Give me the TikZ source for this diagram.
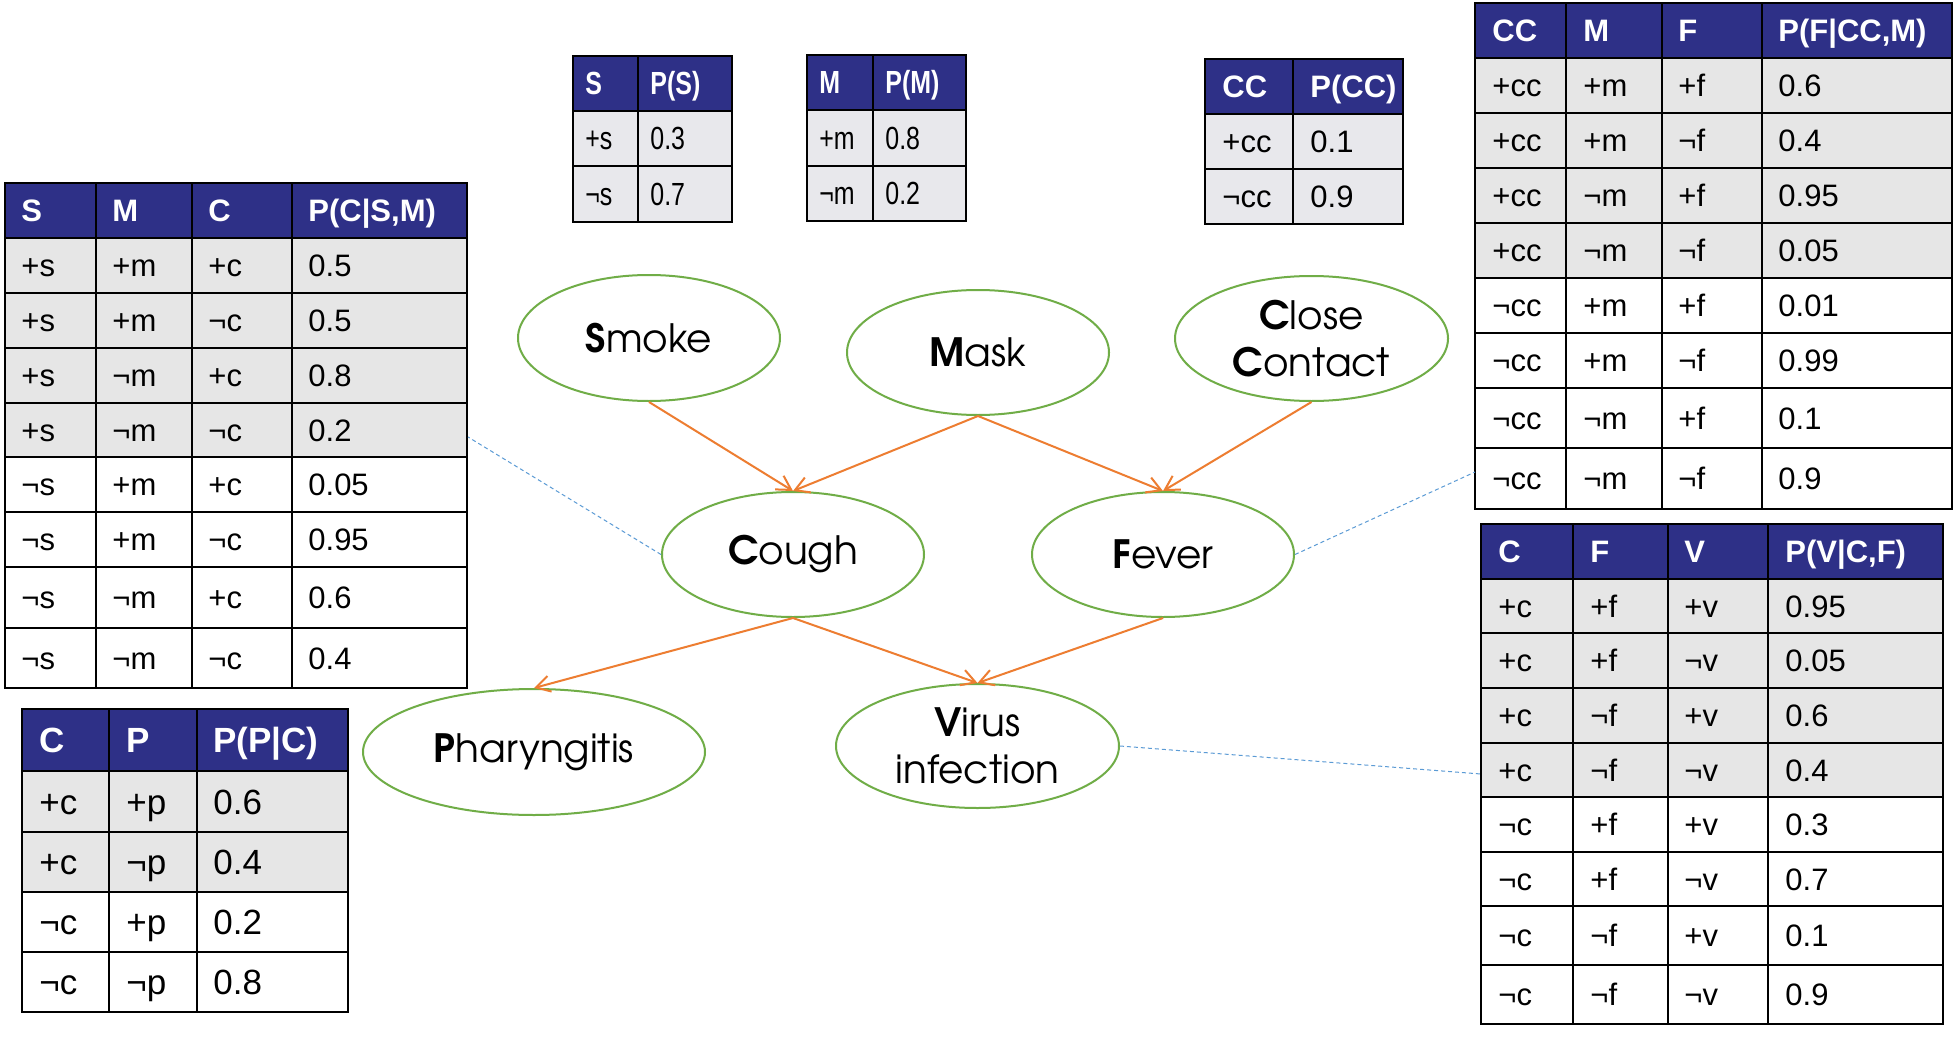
\documentclass[tikz,border=0pt]{standalone}
\usepackage{fontspec}
\setmainfont{Liberation Sans}
\newfontfamily\narrowfont[FakeStretch=0.78]{Liberation Sans}
\newfontfamily\gothfont{TeX Gyre Adventor}
\usetikzlibrary{shapes.geometric,arrows.meta}
\definecolor{hdrblue}{HTML}{2E3087}
\definecolor{rowgray}{HTML}{E6E6E6}
\definecolor{rowgrayb}{HTML}{E8E8EC}
\definecolor{nodegreen}{HTML}{70AD47}
\definecolor{arrorange}{HTML}{ED7D31}
\definecolor{linkblue}{HTML}{5B9BD5}
\tikzset{
  bnnode/.style={ellipse, draw=nodegreen, line width=1pt, fill=white, inner sep=0pt, align=center,
                 font=\gothfont\fontsize{19.5}{23.5}\selectfont},
  bnedge/.style={draw=arrorange, line width=1pt, -{Straight Barb[length=7pt,width=8pt]}},
  dotlink/.style={draw=linkblue, line width=0.5pt, dash pattern=on 2pt off 1.5pt},
  tabline/.style={line width=1.2pt, draw=black},
  hcell/.style={anchor=base west, inner sep=0pt, text=white, font=\bfseries\fontsize{15.5}{18}\selectfont},
  bcell/.style={anchor=base west, inner sep=0pt, text=black, font=\fontsize{15.5}{18}\selectfont},
  hcelln/.style={anchor=base west, inner sep=0pt, text=white, font=\narrowfont\bfseries\fontsize{16}{18}\selectfont},
  bcelln/.style={anchor=base west, inner sep=0pt, text=black, font=\narrowfont\fontsize{16}{18}\selectfont},
  hcellp/.style={anchor=base west, inner sep=0pt, text=white, font=\bfseries\fontsize{17.5}{20}\selectfont},
  bcellp/.style={anchor=base west, inner sep=0pt, text=black, font=\fontsize{17.5}{20}\selectfont},
}
% #1 xL #2 xR #3 yTop #4 yHeaderBottom #5 yGrayBottom #6 yBottom #7 inner x list #8 inner y list #9 gray colour
\newcommand{\tblframe}[9]{%
  \fill[hdrblue] (#1,#3) rectangle (#2,#4);
  \fill[#9] (#1,#4) rectangle (#2,#5);
  \foreach \xx in {#7}{\draw[tabline] (\xx,#3) -- (\xx,#6);}
  \foreach \yy in {#8}{\draw[tabline] (#1,\yy) -- (#2,\yy);}
  \draw[tabline] (#1,#3) rectangle (#2,#6);
}
\begin{document}
\begin{tikzpicture}[x=0.5pt,y=-0.5pt]
\useasboundingbox (0,0) rectangle (1955,1038);
\fill[white] (0,0) rectangle (1955,1038);

% ---------- P(S) ----------
\tblframe{573}{732}{56}{111}{222}{222}{638}{111,166}{rowgrayb}
\node[hcelln] (ts-h1) at (585,83.5+11.4) {S};
\node[hcelln] (ts-h2) at (650,83.5+11.4) {P(S)};
\node[bcelln] (ts-1-1) at (585,138.5+11.4) {+s};
\node[bcelln] (ts-1-2) at (650,138.5+11.4) {0.3};
\node[bcelln] (ts-2-1) at (585,194+11.4) {¬s};
\node[bcelln] (ts-2-2) at (650,194+11.4) {0.7};

% ---------- P(M) ----------
\tblframe{807}{966}{55}{110}{221}{221}{873}{110,166}{rowgrayb}
\node[hcelln] (tm-h1) at (819,82.5+11.4) {M};
\node[hcelln] (tm-h2) at (885,82.5+11.4) {P(M)};
\node[bcelln] (tm-1-1) at (819,138+11.4) {+m};
\node[bcelln] (tm-1-2) at (885,138+11.4) {0.8};
\node[bcelln] (tm-2-1) at (819,193.5+11.4) {¬m};
\node[bcelln] (tm-2-2) at (885,193.5+11.4) {0.2};

% ---------- P(CC) ----------
\tblframe{1205}{1403}{59}{114}{224}{224}{1293}{114,169}{rowgrayb}
\node[hcell] (tcc-h1) at (1222,86.5+11) {CC};
\node[hcell] (tcc-h2) at (1310,86.5+11) {P(CC)};
\node[bcell] (tcc-1-1) at (1222,141.5+11) {+cc};
\node[bcell] (tcc-1-2) at (1310,141.5+11) {0.1};
\node[bcell] (tcc-2-1) at (1222,196.5+11) {¬cc};
\node[bcell] (tcc-2-2) at (1310,196.5+11) {0.9};

% ---------- P(C|S,M) ----------
\tblframe{5}{467}{183}{238}{457}{688}{96,192,292}{238,293,348,403,457,512,567,628}{rowgray}
\node[hcell] (tc-h1) at (21,210.5+11) {S};
\node[hcell] (tc-h2) at (112,210.5+11) {M};
\node[hcell] (tc-h3) at (208,210.5+11) {C};
\node[hcell] (tc-h4) at (308,210.5+11) {P(C|S,M)};
\foreach \yc/\a/\b/\c/\d [count=\k] in {265.5/+s/+m/+c/0.5, 320.5/+s/+m/¬c/0.5, 375.5/+s/¬m/+c/0.8, 430/+s/¬m/¬c/0.2,
    484.5/¬s/+m/+c/0.05, 539.5/¬s/+m/¬c/0.95, 597.5/¬s/¬m/+c/0.6, 658/¬s/¬m/¬c/0.4}{
  \node[bcell] (tc-\k-1) at (21,\yc+11) {\a};
  \node[bcell] (tc-\k-2) at (112,\yc+11) {\b};
  \node[bcell] (tc-\k-3) at (208,\yc+11) {\c};
  \node[bcell] (tc-\k-4) at (308,\yc+11) {\d};
}

% ---------- P(F|CC,M) ----------
\tblframe{1475}{1952}{3}{58}{278}{509}{1566,1662,1762}{58,113,168,223,278,333,388,448}{rowgray}
\node[hcell] (tf-h1) at (1492,30.5+11) {CC};
\node[hcell] (tf-h2) at (1583,30.5+11) {M};
\node[hcell] (tf-h3) at (1678,30.5+11) {F};
\node[hcell] (tf-h4) at (1778,30.5+11) {P(F|CC,M)};
\foreach \yc/\a/\b/\c/\d [count=\k] in {85.5/+cc/+m/+f/0.6, 140.5/+cc/+m/¬f/0.4, 195.5/+cc/¬m/+f/0.95, 250.5/+cc/¬m/¬f/0.05,
    305.5/¬cc/+m/+f/0.01, 360.5/¬cc/+m/¬f/0.99, 418/¬cc/¬m/+f/0.1, 478.5/¬cc/¬m/¬f/0.9}{
  \node[bcell] (tf-\k-1) at (1492,\yc+11) {\a};
  \node[bcell] (tf-\k-2) at (1583,\yc+11) {\b};
  \node[bcell] (tf-\k-3) at (1678,\yc+11) {\c};
  \node[bcell] (tf-\k-4) at (1778,\yc+11) {\d};
}

% ---------- P(V|C,F) ----------
\tblframe{1481}{1943}{524}{579}{797}{1024}{1573,1668,1768}{579,633,688,743,797,852,906,965}{rowgray}
\node[hcell] (tv-h1) at (1498,551.5+11) {C};
\node[hcell] (tv-h2) at (1590,551.5+11) {F};
\node[hcell] (tv-h3) at (1684,551.5+11) {V};
\node[hcell] (tv-h4) at (1785,551.5+11) {P(V|C,F)};
\foreach \yc/\a/\b/\c/\d [count=\k] in {606/+c/+f/+v/0.95, 660.5/+c/+f/¬v/0.05, 715.5/+c/¬f/+v/0.6, 770/+c/¬f/¬v/0.4,
    824.5/¬c/+f/+v/0.3, 879/¬c/+f/¬v/0.7, 935.5/¬c/¬f/+v/0.1, 994.5/¬c/¬f/¬v/0.9}{
  \node[bcell] (tv-\k-1) at (1498,\yc+11) {\a};
  \node[bcell] (tv-\k-2) at (1590,\yc+11) {\b};
  \node[bcell] (tv-\k-3) at (1684,\yc+11) {\c};
  \node[bcell] (tv-\k-4) at (1785,\yc+11) {\d};
}

% ---------- P(P|C) ----------
\tblframe{22}{348}{709}{771}{892}{1012}{109,197}{771,832,892,952}{rowgray}
\node[hcellp] (tp-h1) at (39,740+12.5) {C};
\node[hcellp] (tp-h2) at (126,740+12.5) {P};
\node[hcellp] (tp-h3) at (213,740+12.5) {P(P|C)};
\foreach \yc/\a/\b/\c [count=\k] in {801.5/+c/+p/0.6, 862/+c/¬p/0.4, 922/¬c/+p/0.2, 982/¬c/¬p/0.8}{
  \node[bcellp] (tp-\k-1) at (39,\yc+12.5) {\a};
  \node[bcellp] (tp-\k-2) at (126,\yc+12.5) {\b};
  \node[bcellp] (tp-\k-3) at (213,\yc+12.5) {\c};
}

% ---------- network nodes ----------
\node[bnnode, minimum width=131pt, minimum height=63pt] (smoke) at (649,338) {{\bfseries S}moke};
\node[bnnode, minimum width=131pt, minimum height=62.5pt] (mask) at (978,352.5) {{\bfseries M}ask};
\node[bnnode, minimum width=136.5pt, minimum height=62.5pt] (close) at (1311.5,338.5) {{\bfseries C}lose\\{\bfseries C}ontact};
\node[bnnode, minimum width=131pt, minimum height=62.5pt] (cough) at (793,554.5) {{\bfseries C}ough};
\node[bnnode, minimum width=131pt, minimum height=62.5pt] (fever) at (1163,554.5) {{\bfseries F}ever};
\node[bnnode, minimum width=171pt, minimum height=63pt] (phar) at (534,752) {{\bfseries P}haryngitis};
\node[bnnode, minimum width=141.5pt, minimum height=62pt] (virus) at (977.5,746) {{\bfseries V}irus\\infection};

% ---------- edges ----------
\draw[bnedge] (smoke.south) -- (cough.north);
\draw[bnedge] (mask.south) -- (cough.north);
\draw[bnedge] (mask.south) -- (fever.north);
\draw[bnedge] (close.south) -- (fever.north);
\draw[bnedge] (cough.south) -- (phar.north);
\draw[bnedge] (cough.south) -- (virus.north);
\draw[bnedge] (fever.south) -- (virus.north);

% ---------- links to tables ----------
\coordinate (linkC) at (468,437);
\coordinate (linkF) at (1475,472);
\coordinate (linkV) at (1481,774);
\draw[dotlink] (cough.west) -- (linkC);
\draw[dotlink] (fever.east) -- (linkF);
\draw[dotlink] (virus.east) -- (linkV);
\end{tikzpicture}
\end{document}
